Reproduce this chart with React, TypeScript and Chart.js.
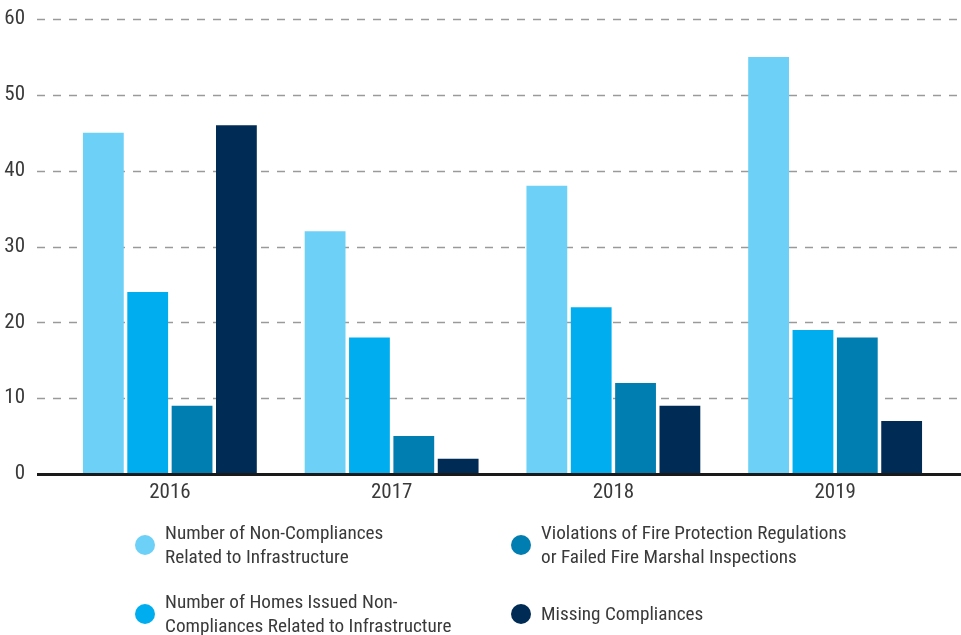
import React, { useEffect, useRef } from "react";
import { Chart, registerables } from "chart.js";

Chart.register(...registerables);

const years = ["2016", "2017", "2018", "2019"];
const nonCompliancesInfra = [45, 32, 38, 55];
const homesIssued = [24, 18, 22, 19];
const fireViolations = [9, 5, 12, 18];
const missingCompliances = [46, 2, 9, 7];
const yTicks = [0, 10, 20, 30, 40, 50, 60];

const seriesLabels = [
  ["Number of Non-Compliances", "Related to Infrastructure"],
  ["Number of Homes Issued Non-", "Compliances Related to Infrastructure"],
  ["Violations of Fire Protection Regulations", "or Failed Fire Marshal Inspections"],
  ["Missing Compliances"],
];
const seriesColors = ["#6DD0F7", "#00AEEF", "#007DB1", "#002B54"];
const seriesValues = [nonCompliancesInfra, homesIssued, fireViolations, missingCompliances];

const FONT = "'Liberation Sans Narrow', 'Roboto Condensed', 'Arial Narrow', Roboto, sans-serif";

const gridPlugin = {
  id: "fullWidthGrid",
  beforeDatasetsDraw(chart: any) {
    const { ctx } = chart;
    const y = chart.scales.y;
    ctx.save();
    ctx.strokeStyle = "#9a9a9a";
    ctx.lineWidth = 1.5;
    ctx.setLineDash([8, 8]);
    yTicks.forEach((t) => {
      if (t === 0) return;
      const py = Math.round(y.getPixelForValue(t)) + 0.5;
      ctx.beginPath();
      ctx.moveTo(37, py);
      ctx.lineTo(chart.width, py);
      ctx.stroke();
    });
    ctx.restore();
  },
  afterDatasetsDraw(chart: any) {
    const { ctx } = chart;
    const y = chart.scales.y;
    const py = y.getPixelForValue(0);
    ctx.save();
    ctx.strokeStyle = "#1a1a1a";
    ctx.lineWidth = 3;
    ctx.beginPath();
    ctx.moveTo(37, py + 0.5);
    ctx.lineTo(chart.width, py + 0.5);
    ctx.stroke();
    ctx.restore();
  },
};

export default function App() {
  const canvasRef = useRef<HTMLCanvasElement>(null);

  useEffect(() => {
    if (!canvasRef.current) return;
    const chart = new Chart(canvasRef.current, {
      type: "bar",
      data: {
        labels: years,
        datasets: seriesValues.map((vals, i) => ({
          label: seriesLabels[i].join(" "),
          data: vals,
          backgroundColor: seriesColors[i],
          borderWidth: 0,
          categoryPercentage: 0.8,
          barPercentage: 0.92,
        })),
      },
      options: {
        responsive: true,
        animation: false,
        maintainAspectRatio: false,
        layout: { padding: { top: 19, right: 15, bottom: 4, left: 0 } },
        plugins: {
          legend: { display: false },
          tooltip: { enabled: false },
        },
        scales: {
          x: {
            grid: { display: false, drawTicks: false },
            border: { display: false },
            ticks: {
              color: "#3a3a3a",
              font: { family: FONT, size: 21 },
              padding: 6,
            },
            afterFit: (s: any) => {
              s.height = 32;
            },
          },
          y: {
            min: 0,
            max: 60,
            grid: { display: false, drawTicks: false },
            border: { display: false },
            ticks: {
              stepSize: 10,
              color: "#3a3a3a",
              font: { family: FONT, size: 21 },
              padding: 34,
            },
            afterFit: (s: any) => {
              s.width = 59;
              s.paddingTop = 0;
              s.paddingBottom = 0;
            },
          },
        },
      },
      plugins: [gridPlugin],
    });
    return () => chart.destroy();
  }, []);

  return (
    <div style={{ position: "fixed", left: 0, top: 0, width: 961, height: 635, background: "#fff", fontFamily: FONT }}>
      <div style={{ position: "absolute", left: 0, top: 0, width: 961, height: 510 }}>
        <canvas ref={canvasRef} />
      </div>
      <div
        style={{
          position: "absolute",
          left: 135,
          top: 521,
          display: "grid",
          gridTemplateColumns: "376px auto",
          rowGap: 21,
        }}
      >
        {[0, 2, 1, 3].map((i) => (
          <div key={i} style={{ display: "flex", alignItems: "center", height: 48 }}>
            <span
              style={{
                width: 20,
                height: 20,
                borderRadius: "50%",
                background: seriesColors[i],
                display: "inline-block",
                flex: "0 0 auto",
              }}
            />
            <span style={{ marginLeft: 10, fontSize: 19.2, lineHeight: "24px", color: "#3a3a3a" }}>
              {seriesLabels[i].map((l, k) => (
                <div key={k}>{l}</div>
              ))}
            </span>
          </div>
        ))}
      </div>
    </div>
  );
}
